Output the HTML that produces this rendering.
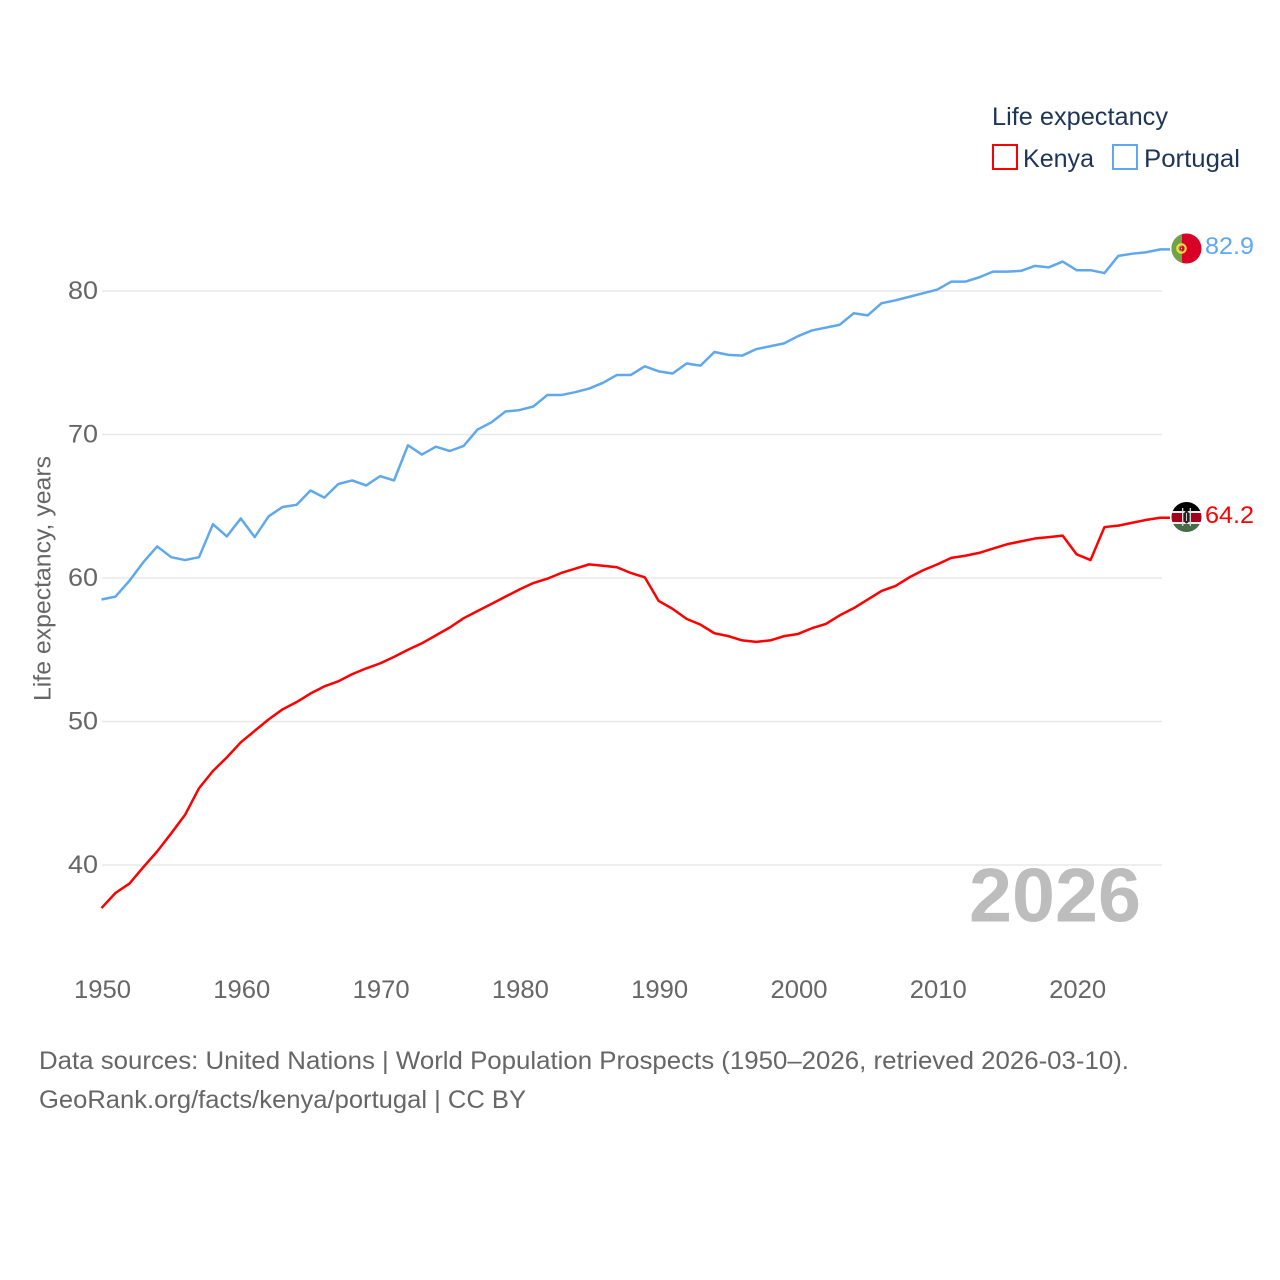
<!DOCTYPE html>
<html lang="en">
<head>
<meta charset="utf-8">
<title>Life expectancy: Kenya and Portugal</title>
<style>
html,body{margin:0;padding:0;background:#fff}
svg{display:block}
text{font-family:"Liberation Sans",sans-serif}
</style>
</head>
<body>
<svg id="chart" xmlns="http://www.w3.org/2000/svg" width="1280" height="1280" viewBox="0 0 1280 1280">
  <rect x="0" y="0" width="1280" height="1280" fill="#ffffff"/>
  <g id="grid"></g>
  <g id="yticks"></g>
  <g id="xticks"></g>
  <text transform="translate(50.5,701) rotate(-90)" font-size="24" fill="#666666" textLength="245" lengthAdjust="spacingAndGlyphs">Life expectancy, years</text>
  <text x="969" y="921.5" font-size="76" font-weight="700" fill="#bdbdbd" textLength="172" lengthAdjust="spacingAndGlyphs">2026</text>
  <g id="series"></g>
  <defs>
    <clipPath id="pt-clip"><circle cx="1186.5" cy="248.5" r="15"/></clipPath>
    <clipPath id="ke-clip"><circle cx="1186.5" cy="517" r="15"/></clipPath>
  </defs>
  <g clip-path="url(#pt-clip)">
    <rect x="1171" y="233" width="31" height="31" fill="#d80027"/>
    <rect x="1171" y="233" width="11" height="31" fill="#6da544"/>
    <circle cx="1181.5" cy="248.5" r="4.2" fill="none" stroke="#ffda44" stroke-width="2.2"/>
    <circle cx="1181.5" cy="248.5" r="1.7" fill="#d80027"/>
    <circle cx="1181.5" cy="248.5" r="0.7" fill="#f3f3f3"/>
  </g>
  <g clip-path="url(#ke-clip)">
    <rect x="1171" y="502" width="31" height="10" fill="#000000"/>
    <rect x="1171" y="511" width="31" height="2" fill="#eeeeee"/>
    <rect x="1171" y="513" width="31" height="9" fill="#a2001d"/>
    <rect x="1171" y="522" width="31" height="2" fill="#eeeeee"/>
    <rect x="1171" y="524" width="31" height="9" fill="#4a6b48"/>
    <ellipse cx="1186.5" cy="517" rx="2.8" ry="6.5" fill="#222222"/>
    <rect x="1182" y="508" width="1.3" height="18" fill="#d8d8d8"/>
    <rect x="1189.7" y="508" width="1.3" height="18" fill="#d8d8d8"/>
    <rect x="1186" y="513" width="1" height="8" fill="#c9c9c9"/>
  </g>
  <text id="pt-value" x="1205" y="254" font-size="24" fill="#5fa8ee" textLength="49" lengthAdjust="spacingAndGlyphs">82.9</text>
  <text id="ke-value" x="1205" y="523" font-size="24" fill="#ff0000" textLength="49" lengthAdjust="spacingAndGlyphs">64.2</text>
  <g>
    <text x="992" y="125" font-size="25" fill="#1d3557" textLength="176" lengthAdjust="spacingAndGlyphs">Life expectancy</text>
    <g>
      <rect x="993" y="145" width="24" height="24" fill="none" stroke="#ff0000" stroke-width="2"/>
      <text x="1023" y="167" font-size="25" fill="#1d3557" textLength="71" lengthAdjust="spacingAndGlyphs">Kenya</text>
    </g>
    <g>
      <rect x="1113" y="145" width="24" height="24" fill="none" stroke="#5fa8ee" stroke-width="2"/>
      <text x="1144" y="167" font-size="25" fill="#1d3557" textLength="96" lengthAdjust="spacingAndGlyphs">Portugal</text>
    </g>
  </g>
  <text x="39" y="1069" font-size="25" fill="#666666" textLength="1090" lengthAdjust="spacingAndGlyphs">Data sources: United Nations | World Population Prospects (1950–2026, retrieved 2026-03-10).</text>
  <text x="39" y="1108" font-size="25" fill="#666666" textLength="487" lengthAdjust="spacingAndGlyphs">GeoRank.org/facts/kenya/portugal | CC BY</text>
</svg>
<script>
const startYear = 1950;
const yTickValues = [40, 50, 60, 70, 80];
const xTickYears = [1950, 1960, 1970, 1980, 1990, 2000, 2010, 2020];
const portugalValues = [58.5,58.7,59.8,61.1,62.2,61.45,61.25,61.45,63.75,62.9,64.15,62.85,64.3,64.95,65.1,66.1,65.6,66.55,66.8,66.45,67.1,66.8,69.25,68.6,69.15,68.85,69.2,70.35,70.85,71.6,71.7,71.95,72.75,72.75,72.95,73.2,73.6,74.15,74.15,74.75,74.4,74.25,74.95,74.8,75.75,75.55,75.5,75.95,76.15,76.35,76.85,77.25,77.45,77.65,78.45,78.3,79.15,79.35,79.6,79.85,80.1,80.65,80.65,80.95,81.35,81.35,81.4,81.75,81.65,82.05,81.45,81.45,81.25,82.45,82.6,82.7,82.9];
const kenyaValues = [37.0,38.05,38.7,39.85,40.95,42.2,43.5,45.35,46.55,47.5,48.55,49.35,50.15,50.85,51.35,51.95,52.45,52.8,53.3,53.7,54.05,54.5,55.0,55.45,56.0,56.55,57.2,57.7,58.2,58.7,59.2,59.65,59.95,60.35,60.65,60.95,60.85,60.75,60.35,60.05,58.4,57.85,57.15,56.75,56.15,55.95,55.65,55.55,55.65,55.95,56.1,56.5,56.8,57.4,57.9,58.5,59.1,59.45,60.05,60.55,60.95,61.4,61.55,61.75,62.05,62.35,62.55,62.75,62.85,62.95,61.65,61.25,63.55,63.65,63.85,64.05,64.2];

const NS = 'http://www.w3.org/2000/svg';
const lastYear = startYear + portugalValues.length - 1;
function xScale(year) { return 101.5 + (year - startYear) * 13.93; }
function yScale(v) { return 865 - (v - 40) * (865 - 291) / 40; }

const grid = document.getElementById('grid');
const yticks = document.getElementById('yticks');
const xticks = document.getElementById('xticks');
const series = document.getElementById('series');

yTickValues.forEach(function (v) {
  const line = document.createElementNS(NS, 'line');
  
  
  line.setAttribute('x1', 102);
  line.setAttribute('x2', 1162);
  line.setAttribute('y1', yScale(v));
  line.setAttribute('y2', yScale(v));
  line.setAttribute('stroke', '#e8e8e8');
  line.setAttribute('stroke-width', '1.5');
  grid.appendChild(line);

  const label = document.createElementNS(NS, 'text');
  
  
  label.setAttribute('x', 68);
  label.setAttribute('y', yScale(v) + 8);
  label.setAttribute('font-size', '25');
  label.setAttribute('fill', '#666666');
  label.setAttribute('textLength', '30');
  label.setAttribute('lengthAdjust', 'spacingAndGlyphs');
  label.textContent = v;
  yticks.appendChild(label);
});

xTickYears.forEach(function (year) {
  const label = document.createElementNS(NS, 'text');
  
  
  label.setAttribute('x', xScale(year) + 1);
  label.setAttribute('y', 998);
  label.setAttribute('text-anchor', 'middle');
  label.setAttribute('font-size', '25');
  label.setAttribute('fill', '#666666');
  label.setAttribute('textLength', '57');
  label.setAttribute('lengthAdjust', 'spacingAndGlyphs');
  label.textContent = year;
  xticks.appendChild(label);
});

function pointsFor(values) {
  return values.map(function (v, i) {
    return xScale(startYear + i).toFixed(2) + ',' + yScale(v).toFixed(2);
  });
}

const kenyaLine = document.createElementNS(NS, 'polyline');


kenyaLine.setAttribute('points', pointsFor(kenyaValues).concat([(1170) + ',' + yScale(kenyaValues[kenyaValues.length - 1]).toFixed(2)]).join(' '));
kenyaLine.setAttribute('fill', 'none');
kenyaLine.setAttribute('stroke', '#ff0000');
kenyaLine.setAttribute('stroke-width', '2.5');
kenyaLine.setAttribute('stroke-linejoin', 'round');
series.appendChild(kenyaLine);

const portugalLine = document.createElementNS(NS, 'polyline');


portugalLine.setAttribute('points', pointsFor(portugalValues).concat([(1170) + ',' + yScale(portugalValues[portugalValues.length - 1]).toFixed(2)]).join(' '));
portugalLine.setAttribute('fill', 'none');
portugalLine.setAttribute('stroke', '#5fa8ee');
portugalLine.setAttribute('stroke-width', '2.5');
portugalLine.setAttribute('stroke-linejoin', 'round');
series.appendChild(portugalLine);

document.getElementById('pt-value').textContent = portugalValues[lastYear - startYear].toFixed(1);
document.getElementById('ke-value').textContent = kenyaValues[lastYear - startYear].toFixed(1);
</script>
</body>
</html>
